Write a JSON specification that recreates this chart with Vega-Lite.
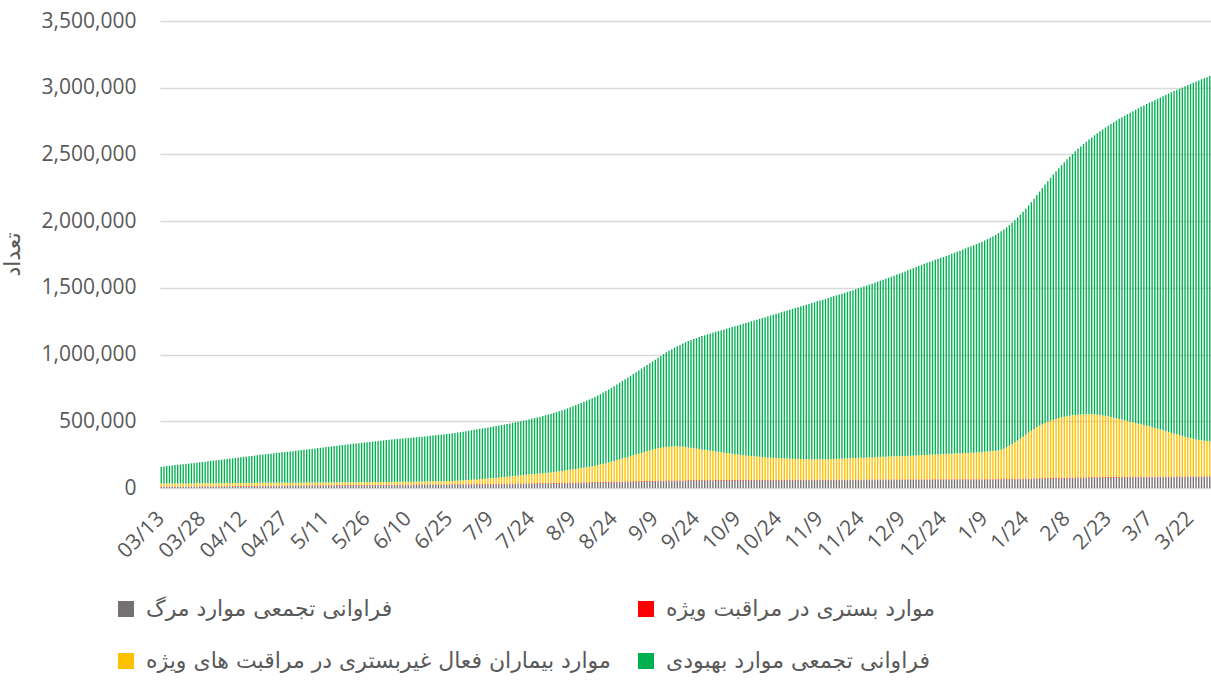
{
"$schema":"https://vega.github.io/schema/vega-lite/v6.json",
"width":1051,"height":467,
"autosize":{"type":"none"},
"padding":{"left":160,"top":21,"right":0,"bottom":196},
"background":"white",
"config":{"view":{"stroke":null}},
"data":{"values":[
{"d":"03/13","deaths":7900,"icu":2600,"nonicu":23500,"recovered":123600},
{"d":"03/14","deaths":8000,"icu":2600,"nonicu":23200,"recovered":126900},
{"d":"03/15","deaths":8100,"icu":2600,"nonicu":22900,"recovered":130700},
{"d":"03/16","deaths":8200,"icu":2600,"nonicu":22700,"recovered":133700},
{"d":"03/17","deaths":8300,"icu":2600,"nonicu":22500,"recovered":136000},
{"d":"03/18","deaths":8400,"icu":2700,"nonicu":22400,"recovered":138300},
{"d":"03/19","deaths":8400,"icu":2700,"nonicu":22500,"recovered":140200},
{"d":"03/20","deaths":8500,"icu":2700,"nonicu":22500,"recovered":142200},
{"d":"03/21","deaths":8600,"icu":2700,"nonicu":22500,"recovered":144100},
{"d":"03/22","deaths":8700,"icu":2700,"nonicu":22600,"recovered":146200},
{"d":"03/23","deaths":8800,"icu":2800,"nonicu":22600,"recovered":148300},
{"d":"03/24","deaths":8800,"icu":2800,"nonicu":22700,"recovered":150700},
{"d":"03/25","deaths":8900,"icu":2800,"nonicu":22800,"recovered":152900},
{"d":"03/26","deaths":9000,"icu":2800,"nonicu":22900,"recovered":155200},
{"d":"03/27","deaths":9100,"icu":2800,"nonicu":23000,"recovered":157500},
{"d":"03/28","deaths":9200,"icu":2900,"nonicu":23000,"recovered":160000},
{"d":"03/29","deaths":9300,"icu":2900,"nonicu":23100,"recovered":162300},
{"d":"03/30","deaths":9400,"icu":2900,"nonicu":23200,"recovered":164800},
{"d":"03/31","deaths":9500,"icu":2900,"nonicu":23200,"recovered":167000},
{"d":"04/01","deaths":9600,"icu":2900,"nonicu":23300,"recovered":169200},
{"d":"04/02","deaths":9700,"icu":3100,"nonicu":23200,"recovered":171500},
{"d":"04/03","deaths":9900,"icu":3100,"nonicu":23200,"recovered":173800},
{"d":"04/04","deaths":10000,"icu":3100,"nonicu":23300,"recovered":176100},
{"d":"04/05","deaths":10100,"icu":3100,"nonicu":23400,"recovered":178500},
{"d":"04/06","deaths":10200,"icu":3100,"nonicu":23500,"recovered":180900},
{"d":"04/07","deaths":10400,"icu":3300,"nonicu":23300,"recovered":183200},
{"d":"04/08","deaths":10500,"icu":3300,"nonicu":23300,"recovered":185600},
{"d":"04/09","deaths":10600,"icu":3300,"nonicu":23400,"recovered":187900},
{"d":"04/10","deaths":10800,"icu":3300,"nonicu":23400,"recovered":190200},
{"d":"04/11","deaths":11000,"icu":3300,"nonicu":23400,"recovered":192500},
{"d":"04/12","deaths":11100,"icu":3400,"nonicu":23400,"recovered":195000},
{"d":"04/13","deaths":11300,"icu":3400,"nonicu":23300,"recovered":197400},
{"d":"04/14","deaths":11500,"icu":3400,"nonicu":23300,"recovered":199700},
{"d":"04/15","deaths":11700,"icu":3400,"nonicu":23200,"recovered":202100},
{"d":"04/16","deaths":11900,"icu":3400,"nonicu":23100,"recovered":204700},
{"d":"04/17","deaths":12100,"icu":3500,"nonicu":22900,"recovered":207200},
{"d":"04/18","deaths":12300,"icu":3500,"nonicu":22800,"recovered":209800},
{"d":"04/19","deaths":12400,"icu":3500,"nonicu":22800,"recovered":211800},
{"d":"04/20","deaths":12600,"icu":3500,"nonicu":22700,"recovered":213900},
{"d":"04/21","deaths":12800,"icu":3500,"nonicu":22600,"recovered":216200},
{"d":"04/22","deaths":13000,"icu":3600,"nonicu":22400,"recovered":218300},
{"d":"04/23","deaths":13200,"icu":3600,"nonicu":22300,"recovered":220600},
{"d":"04/24","deaths":13400,"icu":3600,"nonicu":22200,"recovered":223000},
{"d":"04/25","deaths":13600,"icu":3600,"nonicu":22100,"recovered":225300},
{"d":"04/26","deaths":13800,"icu":3600,"nonicu":22000,"recovered":227700},
{"d":"04/27","deaths":14000,"icu":3700,"nonicu":21800,"recovered":229900},
{"d":"04/28","deaths":14200,"icu":3700,"nonicu":21700,"recovered":232000},
{"d":"04/29","deaths":14400,"icu":3700,"nonicu":21600,"recovered":234100},
{"d":"04/30","deaths":14600,"icu":3700,"nonicu":21500,"recovered":236400},
{"d":"04/31","deaths":14900,"icu":3700,"nonicu":21300,"recovered":238900},
{"d":"5/1","deaths":15100,"icu":3800,"nonicu":21100,"recovered":241400},
{"d":"5/2","deaths":15300,"icu":3800,"nonicu":21000,"recovered":243900},
{"d":"5/3","deaths":15500,"icu":3800,"nonicu":20900,"recovered":246300},
{"d":"5/4","deaths":15700,"icu":3800,"nonicu":20800,"recovered":248500},
{"d":"5/5","deaths":15900,"icu":3800,"nonicu":20700,"recovered":250800},
{"d":"5/6","deaths":16000,"icu":3900,"nonicu":20600,"recovered":253100},
{"d":"5/7","deaths":16200,"icu":3900,"nonicu":20500,"recovered":255700},
{"d":"5/8","deaths":16300,"icu":3900,"nonicu":20500,"recovered":258200},
{"d":"5/9","deaths":16500,"icu":3900,"nonicu":20400,"recovered":260700},
{"d":"5/10","deaths":16800,"icu":3900,"nonicu":20200,"recovered":263300},
{"d":"5/11","deaths":17000,"icu":3900,"nonicu":20100,"recovered":265800},
{"d":"5/12","deaths":17200,"icu":4000,"nonicu":20000,"recovered":268200},
{"d":"5/13","deaths":17300,"icu":4000,"nonicu":20100,"recovered":270600},
{"d":"5/14","deaths":17500,"icu":4000,"nonicu":20100,"recovered":273200},
{"d":"5/15","deaths":17600,"icu":4000,"nonicu":20200,"recovered":275700},
{"d":"5/16","deaths":17800,"icu":4000,"nonicu":20200,"recovered":278100},
{"d":"5/17","deaths":17900,"icu":4000,"nonicu":20300,"recovered":280400},
{"d":"5/18","deaths":18100,"icu":4000,"nonicu":20300,"recovered":282300},
{"d":"5/19","deaths":18300,"icu":4000,"nonicu":20300,"recovered":284100},
{"d":"5/20","deaths":18400,"icu":4000,"nonicu":20400,"recovered":286000},
{"d":"5/21","deaths":18600,"icu":4000,"nonicu":20400,"recovered":288200},
{"d":"5/22","deaths":18800,"icu":3900,"nonicu":20500,"recovered":290500},
{"d":"5/23","deaths":18900,"icu":3900,"nonicu":20600,"recovered":292900},
{"d":"5/24","deaths":19100,"icu":3900,"nonicu":20600,"recovered":295200},
{"d":"5/25","deaths":19300,"icu":3900,"nonicu":20600,"recovered":297300},
{"d":"5/26","deaths":19400,"icu":3900,"nonicu":20700,"recovered":299200},
{"d":"5/27","deaths":19500,"icu":3900,"nonicu":20800,"recovered":301300},
{"d":"5/28","deaths":19600,"icu":3900,"nonicu":20900,"recovered":303400},
{"d":"5/29","deaths":19800,"icu":3900,"nonicu":20900,"recovered":305700},
{"d":"5/30","deaths":19900,"icu":3900,"nonicu":21000,"recovered":307800},
{"d":"5/31","deaths":20000,"icu":3900,"nonicu":21100,"recovered":309800},
{"d":"6/1","deaths":20100,"icu":3700,"nonicu":21400,"recovered":311600},
{"d":"6/2","deaths":20300,"icu":3700,"nonicu":21400,"recovered":313500},
{"d":"6/3","deaths":20400,"icu":3700,"nonicu":21500,"recovered":315600},
{"d":"6/4","deaths":20500,"icu":3700,"nonicu":21600,"recovered":317600},
{"d":"6/5","deaths":20600,"icu":3700,"nonicu":21700,"recovered":319600},
{"d":"6/6","deaths":20800,"icu":3700,"nonicu":21700,"recovered":321600},
{"d":"6/7","deaths":20900,"icu":3700,"nonicu":21800,"recovered":323500},
{"d":"6/8","deaths":21000,"icu":3700,"nonicu":21900,"recovered":325200},
{"d":"6/9","deaths":21100,"icu":3700,"nonicu":22000,"recovered":326800},
{"d":"6/10","deaths":21300,"icu":3700,"nonicu":22000,"recovered":328200},
{"d":"6/11","deaths":21400,"icu":3700,"nonicu":22100,"recovered":329700},
{"d":"6/12","deaths":21600,"icu":3700,"nonicu":22100,"recovered":331400},
{"d":"6/13","deaths":21700,"icu":3700,"nonicu":22300,"recovered":333000},
{"d":"6/14","deaths":21900,"icu":3700,"nonicu":22400,"recovered":334800},
{"d":"6/15","deaths":22000,"icu":3700,"nonicu":22600,"recovered":336400},
{"d":"6/16","deaths":22200,"icu":3700,"nonicu":22700,"recovered":338100},
{"d":"6/17","deaths":22300,"icu":3700,"nonicu":23000,"recovered":339800},
{"d":"6/18","deaths":22400,"icu":3700,"nonicu":23300,"recovered":341700},
{"d":"6/19","deaths":22500,"icu":3700,"nonicu":23600,"recovered":343600},
{"d":"6/20","deaths":22700,"icu":3800,"nonicu":23700,"recovered":345300},
{"d":"6/21","deaths":22800,"icu":3800,"nonicu":24000,"recovered":347200},
{"d":"6/22","deaths":22900,"icu":3800,"nonicu":24300,"recovered":348900},
{"d":"6/23","deaths":23000,"icu":3800,"nonicu":24700,"recovered":350500},
{"d":"6/24","deaths":23200,"icu":3800,"nonicu":25000,"recovered":352600},
{"d":"6/25","deaths":23300,"icu":3800,"nonicu":25500,"recovered":354800},
{"d":"6/26","deaths":23500,"icu":3800,"nonicu":25900,"recovered":357100},
{"d":"6/27","deaths":23600,"icu":3800,"nonicu":26600,"recovered":359100},
{"d":"6/28","deaths":23800,"icu":4000,"nonicu":27200,"recovered":361200},
{"d":"6/29","deaths":23900,"icu":4000,"nonicu":28100,"recovered":363000},
{"d":"6/30","deaths":24100,"icu":4000,"nonicu":29100,"recovered":364900},
{"d":"6/31","deaths":24300,"icu":4000,"nonicu":30200,"recovered":367000},
{"d":"7/1","deaths":24500,"icu":4000,"nonicu":31500,"recovered":369200},
{"d":"7/2","deaths":24700,"icu":4000,"nonicu":32800,"recovered":371300},
{"d":"7/3","deaths":24900,"icu":4000,"nonicu":34100,"recovered":373300},
{"d":"7/4","deaths":25000,"icu":4300,"nonicu":35200,"recovered":375400},
{"d":"7/5","deaths":25200,"icu":4300,"nonicu":36500,"recovered":377100},
{"d":"7/6","deaths":25400,"icu":4300,"nonicu":37800,"recovered":378900},
{"d":"7/7","deaths":25600,"icu":4300,"nonicu":39100,"recovered":381000},
{"d":"7/8","deaths":25800,"icu":4300,"nonicu":40900,"recovered":382600},
{"d":"7/9","deaths":26000,"icu":4300,"nonicu":42700,"recovered":384200},
{"d":"7/10","deaths":26200,"icu":4300,"nonicu":44500,"recovered":386000},
{"d":"7/11","deaths":26400,"icu":4500,"nonicu":46100,"recovered":387600},
{"d":"7/12","deaths":26600,"icu":4500,"nonicu":47900,"recovered":389100},
{"d":"7/13","deaths":26900,"icu":4500,"nonicu":49600,"recovered":390800},
{"d":"7/14","deaths":27200,"icu":4500,"nonicu":51300,"recovered":392700},
{"d":"7/15","deaths":27400,"icu":4500,"nonicu":53100,"recovered":394800},
{"d":"7/16","deaths":27700,"icu":4500,"nonicu":54800,"recovered":396800},
{"d":"7/17","deaths":27900,"icu":4500,"nonicu":56600,"recovered":399200},
{"d":"7/18","deaths":28200,"icu":4700,"nonicu":58100,"recovered":401400},
{"d":"7/19","deaths":28400,"icu":4700,"nonicu":59900,"recovered":403300},
{"d":"7/20","deaths":28600,"icu":4700,"nonicu":61700,"recovered":405100},
{"d":"7/21","deaths":28800,"icu":4700,"nonicu":63500,"recovered":407300},
{"d":"7/22","deaths":29100,"icu":4700,"nonicu":65200,"recovered":409400},
{"d":"7/23","deaths":29300,"icu":4700,"nonicu":67000,"recovered":412200},
{"d":"7/24","deaths":29600,"icu":4700,"nonicu":68700,"recovered":415600},
{"d":"7/25","deaths":29900,"icu":4900,"nonicu":70200,"recovered":419000},
{"d":"7/26","deaths":30100,"icu":4900,"nonicu":72000,"recovered":421300},
{"d":"7/27","deaths":30400,"icu":4900,"nonicu":73700,"recovered":425600},
{"d":"7/28","deaths":30700,"icu":4900,"nonicu":75400,"recovered":428700},
{"d":"7/29","deaths":31000,"icu":4900,"nonicu":77100,"recovered":432300},
{"d":"7/30","deaths":31300,"icu":4900,"nonicu":78800,"recovered":435800},
{"d":"8/1","deaths":31600,"icu":4900,"nonicu":80500,"recovered":439900},
{"d":"8/2","deaths":31900,"icu":5100,"nonicu":82500,"recovered":443200},
{"d":"8/3","deaths":32300,"icu":5100,"nonicu":84600,"recovered":446900},
{"d":"8/4","deaths":32600,"icu":5100,"nonicu":87300,"recovered":449900},
{"d":"8/5","deaths":32900,"icu":5100,"nonicu":90000,"recovered":453800},
{"d":"8/6","deaths":33300,"icu":5100,"nonicu":92600,"recovered":457600},
{"d":"8/7","deaths":33700,"icu":5100,"nonicu":95200,"recovered":462900},
{"d":"8/8","deaths":34100,"icu":5400,"nonicu":97500,"recovered":468000},
{"d":"8/9","deaths":34400,"icu":5400,"nonicu":100200,"recovered":472800},
{"d":"8/10","deaths":34800,"icu":5400,"nonicu":102800,"recovered":477500},
{"d":"8/11","deaths":35200,"icu":5400,"nonicu":105400,"recovered":482800},
{"d":"8/12","deaths":35600,"icu":5600,"nonicu":107800,"recovered":488700},
{"d":"8/13","deaths":36100,"icu":5600,"nonicu":110300,"recovered":494200},
{"d":"8/14","deaths":36500,"icu":5600,"nonicu":112900,"recovered":499900},
{"d":"8/15","deaths":36900,"icu":5600,"nonicu":116500,"recovered":504800},
{"d":"8/16","deaths":37300,"icu":5600,"nonicu":120100,"recovered":510300},
{"d":"8/17","deaths":37800,"icu":5600,"nonicu":123600,"recovered":515500},
{"d":"8/18","deaths":38200,"icu":5600,"nonicu":128200,"recovered":520900},
{"d":"8/19","deaths":38600,"icu":5600,"nonicu":132800,"recovered":526300},
{"d":"8/20","deaths":39100,"icu":5800,"nonicu":137100,"recovered":533100},
{"d":"8/21","deaths":39500,"icu":5800,"nonicu":141700,"recovered":539600},
{"d":"8/22","deaths":40000,"icu":5800,"nonicu":146200,"recovered":546300},
{"d":"8/23","deaths":40500,"icu":5800,"nonicu":150700,"recovered":553100},
{"d":"8/24","deaths":41000,"icu":5800,"nonicu":156200,"recovered":559100},
{"d":"8/25","deaths":41500,"icu":5800,"nonicu":161700,"recovered":566100},
{"d":"8/26","deaths":42000,"icu":5800,"nonicu":167200,"recovered":573500},
{"d":"8/27","deaths":42500,"icu":5800,"nonicu":172700,"recovered":580900},
{"d":"8/28","deaths":43000,"icu":5800,"nonicu":178200,"recovered":588100},
{"d":"8/29","deaths":43400,"icu":5800,"nonicu":183800,"recovered":595400},
{"d":"8/30","deaths":43900,"icu":5900,"nonicu":189200,"recovered":602300},
{"d":"9/1","deaths":44300,"icu":5900,"nonicu":194800,"recovered":609400},
{"d":"9/2","deaths":44800,"icu":5900,"nonicu":200300,"recovered":615800},
{"d":"9/3","deaths":45300,"icu":5900,"nonicu":205800,"recovered":623600},
{"d":"9/4","deaths":45700,"icu":5900,"nonicu":211400,"recovered":631400},
{"d":"9/5","deaths":46100,"icu":5900,"nonicu":217000,"recovered":639300},
{"d":"9/6","deaths":46600,"icu":5900,"nonicu":222500,"recovered":647400},
{"d":"9/7","deaths":47000,"icu":5900,"nonicu":228100,"recovered":654800},
{"d":"9/8","deaths":47500,"icu":5900,"nonicu":233600,"recovered":661700},
{"d":"9/9","deaths":47900,"icu":5900,"nonicu":239200,"recovered":669100},
{"d":"9/10","deaths":48200,"icu":5900,"nonicu":243900,"recovered":678000},
{"d":"9/11","deaths":48600,"icu":5900,"nonicu":247500,"recovered":687600},
{"d":"9/12","deaths":48900,"icu":5800,"nonicu":250300,"recovered":698500},
{"d":"9/13","deaths":49300,"icu":5800,"nonicu":252900,"recovered":708800},
{"d":"9/14","deaths":49700,"icu":5800,"nonicu":254500,"recovered":719000},
{"d":"9/15","deaths":50000,"icu":5800,"nonicu":255200,"recovered":729500},
{"d":"9/16","deaths":50300,"icu":5800,"nonicu":255900,"recovered":739400},
{"d":"9/17","deaths":50600,"icu":5800,"nonicu":255600,"recovered":750400},
{"d":"9/18","deaths":50900,"icu":5800,"nonicu":254300,"recovered":761600},
{"d":"9/19","deaths":51200,"icu":5800,"nonicu":252000,"recovered":774000},
{"d":"9/20","deaths":51500,"icu":5500,"nonicu":250000,"recovered":785400},
{"d":"9/21","deaths":51800,"icu":5500,"nonicu":246700,"recovered":796800},
{"d":"9/22","deaths":52100,"icu":5500,"nonicu":243400,"recovered":807300},
{"d":"9/23","deaths":52300,"icu":5500,"nonicu":240200,"recovered":817800},
{"d":"9/24","deaths":52500,"icu":5500,"nonicu":237000,"recovered":828500},
{"d":"9/25","deaths":52700,"icu":5500,"nonicu":233800,"recovered":839100},
{"d":"9/26","deaths":52900,"icu":5500,"nonicu":230600,"recovered":849500},
{"d":"9/27","deaths":53100,"icu":5500,"nonicu":227400,"recovered":859600},
{"d":"9/28","deaths":53300,"icu":5200,"nonicu":224500,"recovered":869100},
{"d":"9/29","deaths":53500,"icu":5200,"nonicu":221300,"recovered":878400},
{"d":"9/30","deaths":53700,"icu":5200,"nonicu":218100,"recovered":887500},
{"d":"10/1","deaths":53900,"icu":5200,"nonicu":214900,"recovered":896700},
{"d":"10/2","deaths":54000,"icu":5200,"nonicu":211800,"recovered":906000},
{"d":"10/3","deaths":54200,"icu":5200,"nonicu":208600,"recovered":915200},
{"d":"10/4","deaths":54300,"icu":5200,"nonicu":205500,"recovered":923800},
{"d":"10/5","deaths":54400,"icu":5200,"nonicu":202400,"recovered":933000},
{"d":"10/6","deaths":54600,"icu":4900,"nonicu":199500,"recovered":941500},
{"d":"10/7","deaths":54700,"icu":4900,"nonicu":196400,"recovered":950400},
{"d":"10/8","deaths":54800,"icu":4900,"nonicu":193300,"recovered":959500},
{"d":"10/9","deaths":54900,"icu":4900,"nonicu":190200,"recovered":968800},
{"d":"10/10","deaths":55100,"icu":4900,"nonicu":188000,"recovered":977100},
{"d":"10/11","deaths":55200,"icu":4900,"nonicu":185900,"recovered":985400},
{"d":"10/12","deaths":55300,"icu":4900,"nonicu":183800,"recovered":993500},
{"d":"10/13","deaths":55400,"icu":4600,"nonicu":182000,"recovered":1001400},
{"d":"10/14","deaths":55500,"icu":4600,"nonicu":179900,"recovered":1009400},
{"d":"10/15","deaths":55600,"icu":4600,"nonicu":177800,"recovered":1017600},
{"d":"10/16","deaths":55700,"icu":4600,"nonicu":175700,"recovered":1025500},
{"d":"10/17","deaths":55800,"icu":4600,"nonicu":173600,"recovered":1033600},
{"d":"10/18","deaths":55900,"icu":4600,"nonicu":171500,"recovered":1042000},
{"d":"10/19","deaths":56000,"icu":4600,"nonicu":169400,"recovered":1050000},
{"d":"10/20","deaths":56100,"icu":4600,"nonicu":167800,"recovered":1057900},
{"d":"10/21","deaths":56200,"icu":4600,"nonicu":166200,"recovered":1065700},
{"d":"10/22","deaths":56300,"icu":4300,"nonicu":165400,"recovered":1072900},
{"d":"10/23","deaths":56400,"icu":4300,"nonicu":164300,"recovered":1080200},
{"d":"10/24","deaths":56500,"icu":4300,"nonicu":163200,"recovered":1087500},
{"d":"10/25","deaths":56600,"icu":4300,"nonicu":162100,"recovered":1094800},
{"d":"10/26","deaths":56700,"icu":4300,"nonicu":161000,"recovered":1102100},
{"d":"10/27","deaths":56800,"icu":4300,"nonicu":159900,"recovered":1109400},
{"d":"10/28","deaths":56900,"icu":4300,"nonicu":158800,"recovered":1116500},
{"d":"10/29","deaths":56900,"icu":4300,"nonicu":157800,"recovered":1123700},
{"d":"10/30","deaths":57000,"icu":4300,"nonicu":156700,"recovered":1131000},
{"d":"11/1","deaths":57100,"icu":4300,"nonicu":156100,"recovered":1137700},
{"d":"11/2","deaths":57200,"icu":3900,"nonicu":155900,"recovered":1144500},
{"d":"11/3","deaths":57300,"icu":3900,"nonicu":155300,"recovered":1151100},
{"d":"11/4","deaths":57400,"icu":3900,"nonicu":154700,"recovered":1157800},
{"d":"11/5","deaths":57400,"icu":3900,"nonicu":154200,"recovered":1164400},
{"d":"11/6","deaths":57500,"icu":3900,"nonicu":153600,"recovered":1171100},
{"d":"11/7","deaths":57600,"icu":3900,"nonicu":153500,"recovered":1177400},
{"d":"11/8","deaths":57700,"icu":3900,"nonicu":153400,"recovered":1183800},
{"d":"11/9","deaths":57800,"icu":3900,"nonicu":153300,"recovered":1190000},
{"d":"11/10","deaths":57800,"icu":3900,"nonicu":153300,"recovered":1196300},
{"d":"11/11","deaths":57900,"icu":3900,"nonicu":153700,"recovered":1202300},
{"d":"11/12","deaths":58000,"icu":3900,"nonicu":154100,"recovered":1208200},
{"d":"11/13","deaths":58100,"icu":3900,"nonicu":154500,"recovered":1214100},
{"d":"11/14","deaths":58200,"icu":3700,"nonicu":155100,"recovered":1220200},
{"d":"11/15","deaths":58200,"icu":3700,"nonicu":156100,"recovered":1225600},
{"d":"11/16","deaths":58300,"icu":3700,"nonicu":157000,"recovered":1231100},
{"d":"11/17","deaths":58400,"icu":3700,"nonicu":157900,"recovered":1236600},
{"d":"11/18","deaths":58500,"icu":3700,"nonicu":158800,"recovered":1242100},
{"d":"11/19","deaths":58500,"icu":3700,"nonicu":159800,"recovered":1247700},
{"d":"11/20","deaths":58600,"icu":3700,"nonicu":160700,"recovered":1253300},
{"d":"11/21","deaths":58700,"icu":3700,"nonicu":161600,"recovered":1259000},
{"d":"11/22","deaths":58800,"icu":3700,"nonicu":162500,"recovered":1264700},
{"d":"11/23","deaths":58800,"icu":3700,"nonicu":163500,"recovered":1270500},
{"d":"11/24","deaths":58900,"icu":3700,"nonicu":163900,"recovered":1276900},
{"d":"11/25","deaths":59000,"icu":3700,"nonicu":164300,"recovered":1283200},
{"d":"11/26","deaths":59100,"icu":3700,"nonicu":165200,"recovered":1289200},
{"d":"11/27","deaths":59100,"icu":3700,"nonicu":166200,"recovered":1295300},
{"d":"11/28","deaths":59200,"icu":3700,"nonicu":167100,"recovered":1301400},
{"d":"11/29","deaths":59300,"icu":3700,"nonicu":168000,"recovered":1307800},
{"d":"11/30","deaths":59400,"icu":3700,"nonicu":168900,"recovered":1314200},
{"d":"12/1","deaths":59400,"icu":3700,"nonicu":169900,"recovered":1320600},
{"d":"12/2","deaths":59500,"icu":3700,"nonicu":170800,"recovered":1327100},
{"d":"12/3","deaths":59600,"icu":3700,"nonicu":171700,"recovered":1333700},
{"d":"12/4","deaths":59700,"icu":3700,"nonicu":172600,"recovered":1340200},
{"d":"12/5","deaths":59700,"icu":3700,"nonicu":173600,"recovered":1346900},
{"d":"12/6","deaths":59800,"icu":3700,"nonicu":174500,"recovered":1353600},
{"d":"12/7","deaths":59900,"icu":3700,"nonicu":174900,"recovered":1360800},
{"d":"12/8","deaths":60000,"icu":3700,"nonicu":175300,"recovered":1368000},
{"d":"12/9","deaths":60000,"icu":3700,"nonicu":175800,"recovered":1375200},
{"d":"12/10","deaths":60100,"icu":3700,"nonicu":176200,"recovered":1382300},
{"d":"12/11","deaths":60200,"icu":3700,"nonicu":177100,"recovered":1390200},
{"d":"12/12","deaths":60300,"icu":3800,"nonicu":177900,"recovered":1397700},
{"d":"12/13","deaths":60300,"icu":3800,"nonicu":178900,"recovered":1404700},
{"d":"12/14","deaths":60400,"icu":3800,"nonicu":179800,"recovered":1412000},
{"d":"12/15","deaths":60500,"icu":3800,"nonicu":180700,"recovered":1419200},
{"d":"12/16","deaths":60600,"icu":3800,"nonicu":181600,"recovered":1426200},
{"d":"12/17","deaths":60600,"icu":3800,"nonicu":182600,"recovered":1432900},
{"d":"12/18","deaths":60700,"icu":3800,"nonicu":183500,"recovered":1439600},
{"d":"12/19","deaths":60800,"icu":3800,"nonicu":184400,"recovered":1446100},
{"d":"12/20","deaths":60800,"icu":3800,"nonicu":185400,"recovered":1452500},
{"d":"12/21","deaths":60900,"icu":3800,"nonicu":186300,"recovered":1459000},
{"d":"12/22","deaths":61000,"icu":3800,"nonicu":187200,"recovered":1465600},
{"d":"12/23","deaths":61000,"icu":3800,"nonicu":188200,"recovered":1472000},
{"d":"12/24","deaths":61100,"icu":3800,"nonicu":189100,"recovered":1477600},
{"d":"12/25","deaths":61200,"icu":3800,"nonicu":190000,"recovered":1483900},
{"d":"12/26","deaths":61200,"icu":3800,"nonicu":191000,"recovered":1490500},
{"d":"12/27","deaths":61300,"icu":3800,"nonicu":191900,"recovered":1497900},
{"d":"12/28","deaths":61400,"icu":3800,"nonicu":192800,"recovered":1505000},
{"d":"12/29","deaths":61400,"icu":3800,"nonicu":193800,"recovered":1511900},
{"d":"12/30","deaths":61500,"icu":3900,"nonicu":194600,"recovered":1519000},
{"d":"1/1","deaths":61600,"icu":3900,"nonicu":195500,"recovered":1526200},
{"d":"1/2","deaths":61700,"icu":3900,"nonicu":196400,"recovered":1533200},
{"d":"1/3","deaths":61700,"icu":3900,"nonicu":197400,"recovered":1540400},
{"d":"1/4","deaths":61800,"icu":3900,"nonicu":198300,"recovered":1547400},
{"d":"1/5","deaths":61900,"icu":3900,"nonicu":199200,"recovered":1554600},
{"d":"1/6","deaths":62000,"icu":3900,"nonicu":200100,"recovered":1562200},
{"d":"1/7","deaths":62100,"icu":3900,"nonicu":202000,"recovered":1568700},
{"d":"1/8","deaths":62200,"icu":3900,"nonicu":203900,"recovered":1575500},
{"d":"1/9","deaths":62300,"icu":3900,"nonicu":205800,"recovered":1583700},
{"d":"1/10","deaths":62400,"icu":3900,"nonicu":207700,"recovered":1591400},
{"d":"1/11","deaths":62500,"icu":3900,"nonicu":209600,"recovered":1599200},
{"d":"1/12","deaths":62600,"icu":3900,"nonicu":211500,"recovered":1607600},
{"d":"1/13","deaths":62800,"icu":4000,"nonicu":212200,"recovered":1618400},
{"d":"1/14","deaths":62900,"icu":4000,"nonicu":214100,"recovered":1629000},
{"d":"1/15","deaths":63100,"icu":4000,"nonicu":219900,"recovered":1636400},
{"d":"1/16","deaths":63300,"icu":4000,"nonicu":227700,"recovered":1642500},
{"d":"1/17","deaths":63500,"icu":4000,"nonicu":237500,"recovered":1648200},
{"d":"1/18","deaths":63700,"icu":4000,"nonicu":248300,"recovered":1654200},
{"d":"1/19","deaths":63900,"icu":4000,"nonicu":260100,"recovered":1660200},
{"d":"1/20","deaths":64200,"icu":4400,"nonicu":272400,"recovered":1666600},
{"d":"1/21","deaths":64500,"icu":4400,"nonicu":286100,"recovered":1672600},
{"d":"1/22","deaths":64800,"icu":4400,"nonicu":300800,"recovered":1678600},
{"d":"1/23","deaths":65100,"icu":4400,"nonicu":315500,"recovered":1685100},
{"d":"1/24","deaths":65400,"icu":4400,"nonicu":330200,"recovered":1692700},
{"d":"1/25","deaths":65700,"icu":4400,"nonicu":344900,"recovered":1702200},
{"d":"1/26","deaths":66100,"icu":4400,"nonicu":358500,"recovered":1713100},
{"d":"1/27","deaths":66500,"icu":4800,"nonicu":370700,"recovered":1726500},
{"d":"1/28","deaths":66900,"icu":4800,"nonicu":383300,"recovered":1740400},
{"d":"1/29","deaths":67300,"icu":4800,"nonicu":394900,"recovered":1755000},
{"d":"1/30","deaths":67700,"icu":4800,"nonicu":405500,"recovered":1770300},
{"d":"1/31","deaths":68100,"icu":4800,"nonicu":415100,"recovered":1786200},
{"d":"2/1","deaths":68500,"icu":4800,"nonicu":423700,"recovered":1802700},
{"d":"2/2","deaths":68900,"icu":4800,"nonicu":431300,"recovered":1819800},
{"d":"2/3","deaths":69300,"icu":5300,"nonicu":437400,"recovered":1837300},
{"d":"2/4","deaths":69700,"icu":5300,"nonicu":443000,"recovered":1855300},
{"d":"2/5","deaths":70100,"icu":5300,"nonicu":448600,"recovered":1872700},
{"d":"2/6","deaths":70500,"icu":5300,"nonicu":453200,"recovered":1890500},
{"d":"2/7","deaths":70900,"icu":5300,"nonicu":457800,"recovered":1907600},
{"d":"2/8","deaths":71300,"icu":5300,"nonicu":461400,"recovered":1925000},
{"d":"2/9","deaths":71700,"icu":5300,"nonicu":465000,"recovered":1941700},
{"d":"2/10","deaths":72100,"icu":5300,"nonicu":467600,"recovered":1958700},
{"d":"2/11","deaths":72500,"icu":5300,"nonicu":469200,"recovered":1976100},
{"d":"2/12","deaths":72900,"icu":5600,"nonicu":470500,"recovered":1992900},
{"d":"2/13","deaths":73300,"icu":5600,"nonicu":472100,"recovered":2009100},
{"d":"2/14","deaths":73700,"icu":5600,"nonicu":472700,"recovered":2025700},
{"d":"2/15","deaths":74000,"icu":5600,"nonicu":473400,"recovered":2041800},
{"d":"2/16","deaths":74400,"icu":5600,"nonicu":473000,"recovered":2058400},
{"d":"2/17","deaths":74700,"icu":5600,"nonicu":471700,"recovered":2075500},
{"d":"2/18","deaths":75000,"icu":5600,"nonicu":470400,"recovered":2092100},
{"d":"2/19","deaths":75400,"icu":5600,"nonicu":468000,"recovered":2109300},
{"d":"2/20","deaths":75700,"icu":5600,"nonicu":465700,"recovered":2126100},
{"d":"2/21","deaths":76000,"icu":5600,"nonicu":462400,"recovered":2143500},
{"d":"2/22","deaths":76300,"icu":5600,"nonicu":459100,"recovered":2160500},
{"d":"2/23","deaths":76600,"icu":5600,"nonicu":454800,"recovered":2178100},
{"d":"2/24","deaths":76900,"icu":5100,"nonicu":450000,"recovered":2196400},
{"d":"2/25","deaths":77100,"icu":5100,"nonicu":444800,"recovered":2214400},
{"d":"2/26","deaths":77400,"icu":5100,"nonicu":439500,"recovered":2232100},
{"d":"2/27","deaths":77600,"icu":5100,"nonicu":434300,"recovered":2249500},
{"d":"2/28","deaths":77800,"icu":5100,"nonicu":429100,"recovered":2266600},
{"d":"2/29","deaths":78000,"icu":5100,"nonicu":423900,"recovered":2283400},
{"d":"2/30","deaths":78200,"icu":5100,"nonicu":418700,"recovered":2299900},
{"d":"2/31","deaths":78400,"icu":5100,"nonicu":413500,"recovered":2316200},
{"d":"3/1","deaths":78600,"icu":5100,"nonicu":408300,"recovered":2332300},
{"d":"3/2","deaths":78800,"icu":5100,"nonicu":403100,"recovered":2348200},
{"d":"3/3","deaths":79000,"icu":4700,"nonicu":398300,"recovered":2363900},
{"d":"3/4","deaths":79200,"icu":4700,"nonicu":393100,"recovered":2379500},
{"d":"3/5","deaths":79400,"icu":4700,"nonicu":387900,"recovered":2394900},
{"d":"3/6","deaths":79500,"icu":4700,"nonicu":382800,"recovered":2410200},
{"d":"3/7","deaths":79700,"icu":4700,"nonicu":377600,"recovered":2425400},
{"d":"3/8","deaths":79800,"icu":4700,"nonicu":371500,"recovered":2441500},
{"d":"3/9","deaths":80000,"icu":4700,"nonicu":365300,"recovered":2457500},
{"d":"3/10","deaths":80100,"icu":4700,"nonicu":359200,"recovered":2473400},
{"d":"3/11","deaths":80200,"icu":4700,"nonicu":353100,"recovered":2489200},
{"d":"3/12","deaths":80300,"icu":4400,"nonicu":347300,"recovered":2504900},
{"d":"3/13","deaths":80400,"icu":4400,"nonicu":341200,"recovered":2520500},
{"d":"3/14","deaths":80600,"icu":4400,"nonicu":335000,"recovered":2536000},
{"d":"3/15","deaths":80700,"icu":4400,"nonicu":328900,"recovered":2551400},
{"d":"3/16","deaths":80800,"icu":4400,"nonicu":322800,"recovered":2566700},
{"d":"3/17","deaths":80900,"icu":4400,"nonicu":316700,"recovered":2581900},
{"d":"3/18","deaths":81000,"icu":4400,"nonicu":311600,"recovered":2596000},
{"d":"3/19","deaths":81200,"icu":4400,"nonicu":305400,"recovered":2611000},
{"d":"3/20","deaths":81300,"icu":4400,"nonicu":299300,"recovered":2625900},
{"d":"3/21","deaths":81400,"icu":4400,"nonicu":293200,"recovered":2640700},
{"d":"3/22","deaths":81500,"icu":4400,"nonicu":288100,"recovered":2654400},
{"d":"3/23","deaths":81600,"icu":4400,"nonicu":283000,"recovered":2668100},
{"d":"3/24","deaths":81700,"icu":4400,"nonicu":277900,"recovered":2681700},
{"d":"3/25","deaths":81900,"icu":4400,"nonicu":273700,"recovered":2694200},
{"d":"3/26","deaths":82000,"icu":4400,"nonicu":270600,"recovered":2705600},
{"d":"3/27","deaths":82100,"icu":4400,"nonicu":267500,"recovered":2716900},
{"d":"3/28","deaths":82200,"icu":4400,"nonicu":265400,"recovered":2727100},
{"d":"3/29","deaths":82400,"icu":4400,"nonicu":263200,"recovered":2737200}
]},
"transform":[{"fold":["deaths","icu","nonicu","recovered"],"as":["series","value"]}],
"mark":{"type":"bar"},
"encoding":{
"x":{"field":"d","type":"ordinal","sort":null,
"scale":{"paddingInner":0.5,"paddingOuter":0.2},
"axis":{"values":["03/13","03/28","04/12","04/27","5/11","5/26","6/10","6/25","7/9","7/24","8/9","8/24","9/9","9/24","10/9","10/24","11/9","11/24","12/9","12/24","1/9","1/24","2/8","2/23","3/7","3/22"],
"title":null,"labelAngle":-45,"labelAlign":"right","labelBaseline":"middle","labelFont":"Open Sans","labelFontSize":21,"labelColor":"#595959","ticks":false,"domain":false,"labelPadding":27,"labelOverlap":false,"labelBound":false,"grid":false}},
"y":{"field":"value","type":"quantitative","stack":"zero",
"scale":{"domain":[0,3500000],"nice":false},
"axis":{"values":[0,500000,1000000,1500000,2000000,2500000,3000000,3500000],"format":",.0f","title":"تعداد","titleFont":"DejaVu Sans","titleFontSize":22,"titleFontWeight":"normal","titleColor":"#595959","titleAngle":-90,"titleX":-148,"titleY":233,"titleAlign":"center","titleBaseline":"middle",
"labelFont":"Open Sans","labelFontSize":21,"labelColor":"#595959","labelPadding":24,"ticks":false,"domain":false,"gridColor":"#d9d9d9","gridWidth":1.3}},
"color":{"field":"series","type":"nominal",
"scale":{"domain":["deaths","icu","nonicu","recovered"],"range":["#767171","#FF0000","#FFC000","#00B050"]},
"legend":{"orient":"none","legendX":-45,"legendY":577,"columns":2,"direction":"horizontal","title":null,"padding":0,
"symbolType":"square","symbolSize":256,"symbolStrokeWidth":0,"symbolOpacity":1,
"labelFont":"DejaVu Sans","labelFontSize":22,"labelColor":"#595959","labelLimit":800,"labelOffset":9,"rowPadding":30,"columnPadding":24,
"labelExpr":"datum.value == 'deaths' ? 'فراوانی تجمعی موارد مرگ' : datum.value == 'icu' ? 'موارد بستری در مراقبت ویژه' : datum.value == 'nonicu' ? 'موارد بیماران فعال غیربستری در مراقبت های ویژه' : 'فراوانی تجمعی موارد بهبودی'"}},
"order":{"field":"series","sort":"ascending"}
}
}
